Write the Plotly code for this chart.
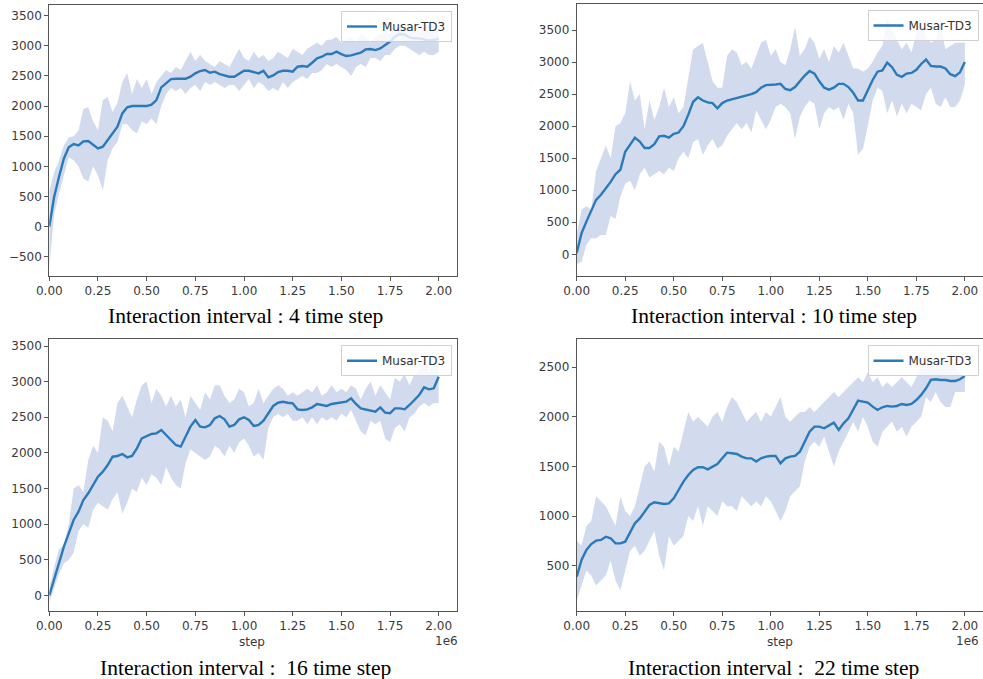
import plotly.graph_objects as go

# x positions (environment steps, in units of 1e6)
STEPS = [0.0, 0.025, 0.05, 0.075, 0.1, 0.125, 0.15, 0.175, 0.2, 0.225, 0.25, 0.275, 0.3, 0.325, 0.35, 0.375,
         0.4, 0.425, 0.45, 0.475, 0.5, 0.525, 0.55, 0.575, 0.6, 0.625, 0.65, 0.675, 0.7, 0.725, 0.75, 0.775,
         0.8, 0.825, 0.85, 0.875, 0.9, 0.925, 0.95, 0.975, 1.0, 1.025, 1.05, 1.075, 1.1, 1.125, 1.15, 1.175,
         1.2, 1.225, 1.25, 1.275, 1.3, 1.325, 1.35, 1.375, 1.4, 1.425, 1.45, 1.475, 1.5, 1.525, 1.55, 1.575,
         1.6, 1.625, 1.65, 1.675, 1.7, 1.725, 1.75, 1.775, 1.8, 1.825, 1.85, 1.875, 1.9, 1.925, 1.95, 1.975, 2.0]

# ---- Interval 4 ----
MEAN_4 = [0, 496, 828, 1132, 1315, 1370, 1348, 1414, 1420, 1354, 1298, 1326, 1437, 1558, 1658, 1879,
          1979, 2001, 2001, 1990, 2001, 2023, 2100, 2311, 2388, 2449, 2454, 2449, 2454, 2488, 2543, 2582,
          2598, 2554, 2571, 2532, 2515, 2488, 2488, 2543, 2587, 2587, 2571, 2543, 2587, 2477, 2510, 2565,
          2587, 2587, 2571, 2654, 2665, 2654, 2720, 2792, 2820, 2864, 2864, 2903, 2864, 2831, 2842, 2864,
          2886, 2941, 2947, 2930, 2958, 3013, 3069, 3151, 3196, 3190, 3140, 3124, 3124, 3107, 3085, 3096, 3124]
UPPER_4 = [600, 900, 1100, 1350, 1480, 1500, 1600, 1950, 1980, 1750, 1600, 2100, 2150, 1900, 2050, 2400,
           2550, 2200, 2450, 2300, 2450, 2200, 2400, 2500, 2600, 2550, 2650, 2600, 2750, 2900, 2750, 2850,
           2750, 2700, 2650, 2750, 2700, 2650, 2800, 2950, 2800, 2750, 2900, 2800, 2850, 2750, 2800, 2900,
           2850, 2800, 2950, 2900, 2850, 2950, 3000, 3050, 3000, 3100, 3100, 3150, 3050, 3100, 3150, 3050,
           3200, 3150, 3050, 3150, 3200, 3250, 3200, 3300, 3350, 3300, 3300, 3350, 3250, 3300, 3350, 3350, 3250]
LOWER_4 = [-700, 200, 550, 850, 1150, 1100, 1000, 800, 750, 1000, 850, 600, 1100, 1300, 1400, 1700,
           1700, 1600, 1550, 1750, 1700, 1800, 1700, 2000, 2200, 2300, 2250, 2300, 2200, 2300, 2350, 2250,
           2400, 2350, 2400, 2350, 2300, 2350, 2350, 2250, 2350, 2450, 2300, 2400, 2350, 2250, 2300, 2250,
           2400, 2300, 2400, 2450, 2500, 2450, 2550, 2550, 2600, 2700, 2650, 2700, 2650, 2600, 2500, 2650,
           2700, 2650, 2800, 2800, 2750, 2850, 2850, 2950, 3000, 3000, 2950, 2900, 2850, 2900, 2850, 2850, 2900]

# ---- Interval 10 ----
MEAN_10 = [20, 330, 510, 690, 850, 930, 1030, 1130, 1250, 1320, 1600, 1720, 1820, 1760, 1660, 1660,
           1720, 1840, 1850, 1820, 1880, 1900, 2000, 2180, 2380, 2450, 2400, 2370, 2360, 2280, 2360, 2400,
           2420, 2440, 2460, 2470, 2500, 2530, 2600, 2640, 2640, 2650, 2660, 2580, 2560, 2610, 2700, 2790,
           2860, 2820, 2700, 2600, 2570, 2600, 2660, 2660, 2610, 2520, 2400, 2400, 2560, 2720, 2850, 2870,
           2990, 2920, 2800, 2770, 2820, 2830, 2880, 2970, 3040, 2940, 2930, 2930, 2900, 2810, 2780, 2840, 3000]
UPPER_10 = [300, 700, 750, 700, 1300, 1500, 1700, 1500, 2000, 2050, 2200, 2700, 2400, 2500, 1950, 2400,
            2100, 2300, 2600, 2300, 2450, 2200, 2300, 2750, 3200, 3250, 3300, 3000, 2700, 2600, 2600, 3100,
            3200, 3150, 2950, 3000, 2900, 3100, 3300, 3350, 3100, 3200, 3000, 2950, 3200, 3550, 3100, 3200,
            3400, 3300, 3050, 3200, 3000, 3250, 3150, 3300, 3100, 2900, 2900, 2850, 2900, 3000, 3150, 3250,
            3700, 3500, 3350, 3200, 3300, 3150, 3450, 3600, 3400, 3300, 3350, 3600, 3200, 3250, 3300, 3300, 3300]
LOWER_10 = [-150, -120, 150, 250, 250, 300, 300, 600, 550, 900, 1100, 1150, 1000, 1250, 1350, 1200,
            1250, 1300, 1250, 1350, 1300, 1500, 1600, 1500, 1750, 1800, 1550, 1700, 1800, 1650, 1700, 1850,
            1950, 2050, 1950, 2050, 1900, 2250, 2100, 1950, 2100, 2300, 2350, 2300, 2200, 1800, 2150, 2300,
            2400, 2350, 1950, 2200, 2300, 2250, 2300, 2100, 2350, 2200, 1550, 1650, 2000, 2400, 2600, 2550,
            2200, 2400, 2150, 2350, 2200, 2350, 2300, 2250, 2500, 2600, 2350, 2300, 2450, 2300, 2300, 2400, 2650]

# ---- Interval 16 ----
MEAN_16 = [0, 239, 449, 683, 870, 1057, 1174, 1338, 1432, 1549, 1666, 1736, 1829, 1946, 1956, 1984,
           1937, 1956, 2063, 2204, 2237, 2265, 2274, 2321, 2251, 2180, 2110, 2087, 2227, 2368, 2461, 2368,
           2358, 2391, 2485, 2517, 2470, 2368, 2391, 2470, 2499, 2461, 2377, 2391, 2452, 2564, 2658, 2704,
           2718, 2704, 2695, 2611, 2601, 2611, 2639, 2686, 2672, 2658, 2686, 2695, 2704, 2718, 2765, 2686,
           2625, 2611, 2601, 2578, 2639, 2564, 2555, 2625, 2625, 2611, 2672, 2742, 2812, 2920, 2892, 2906, 3069]
UPPER_16 = [100, 400, 650, 700, 1000, 1500, 1550, 1450, 1900, 2100, 2000, 2500, 2450, 2300, 2700, 2800,
            2650, 2500, 2750, 2950, 3000, 2700, 2900, 2800, 2650, 2800, 2650, 2750, 2500, 2800, 2700, 2600,
            2850, 2750, 2950, 2950, 2800, 2700, 2750, 2900, 2850, 2650, 2700, 2900, 2700, 2800, 2900, 2950,
            2900, 2800, 2850, 2800, 2850, 2900, 2850, 2950, 2800, 2850, 2950, 2850, 2900, 2850, 2950, 2900,
            2750, 2900, 3000, 2800, 2950, 2850, 2750, 3050, 3000, 3100, 2950, 3100, 3150, 3300, 3150, 3250, 3350]
LOWER_16 = [-100, 100, 300, 450, 500, 600, 900, 1000, 950, 1200, 1300, 1250, 1200, 1350, 1450, 1150,
            1300, 1500, 1450, 1650, 1550, 1700, 1650, 1550, 1800, 1650, 1550, 1500, 1850, 2050, 2000, 1950,
            1900, 1950, 2100, 2050, 1950, 2100, 2000, 2150, 2200, 2100, 1950, 2000, 1900, 2350, 2500, 2550,
            2500, 2550, 2450, 2450, 2500, 2400, 2500, 2400, 2500, 2450, 2500, 2450, 2550, 2500, 2600, 2450,
            2300, 2250, 2450, 2400, 2450, 2200, 2150, 2350, 2400, 2300, 2500, 2550, 2650, 2700, 2650, 2700, 2700]

# ---- Interval 22 ----
MEAN_22 = [389, 557, 658, 718, 752, 759, 792, 776, 725, 725, 742, 843, 927, 977, 1044, 1112,
           1139, 1128, 1122, 1128, 1179, 1263, 1347, 1414, 1465, 1492, 1492, 1471, 1498, 1525, 1582, 1639,
           1633, 1626, 1599, 1582, 1582, 1549, 1582, 1599, 1606, 1606, 1532, 1582, 1599, 1606, 1649, 1750,
           1851, 1902, 1902, 1885, 1918, 1942, 1868, 1935, 1986, 2070, 2164, 2154, 2144, 2103, 2070, 2097,
           2110, 2103, 2110, 2130, 2120, 2130, 2170, 2221, 2288, 2372, 2379, 2372, 2372, 2362, 2362, 2379, 2412]
UPPER_22 = [750, 700, 900, 950, 1200, 1150, 1100, 1000, 900, 1200, 1050, 1000, 1100, 1300, 1500, 1550,
            1450, 1750, 1700, 1500, 1700, 1650, 1850, 2050, 1950, 2000, 1950, 1900, 2000, 2050, 1950, 2100,
            2200, 2150, 2050, 1950, 2000, 2050, 1950, 2050, 2000, 2100, 2200, 2000, 1950, 2000, 2050, 2050,
            2100, 2050, 2100, 2150, 2200, 2250, 2200, 2250, 2300, 2350, 2400, 2350, 2450, 2350, 2400, 2300,
            2350, 2300, 2350, 2400, 2350, 2300, 2400, 2500, 2550, 2600, 2500, 2550, 2600, 2550, 2500, 2450, 2400]
LOWER_22 = [150, 300, 450, 400, 300, 350, 400, 550, 350, 250, 450, 650, 700, 600, 650, 750,
            850, 600, 450, 800, 700, 750, 800, 1000, 950, 1100, 900, 1100, 1050, 1000, 1150, 1100,
            1100, 1050, 1200, 1150, 1100, 1150, 1100, 1200, 1150, 1050, 950, 1050, 1200, 1250, 1300, 1550,
            1700, 1750, 1700, 1800, 1650, 1500, 1650, 1750, 1850, 1950, 1850, 2000, 1900, 1750, 1700, 1850,
            1900, 1950, 1850, 1900, 1800, 1900, 1950, 2000, 2200, 2150, 2250, 2150, 2100, 2100, 2250, 2250, 2250]

CAPTIONS = ["Interaction interval : 4 time step",
            "Interaction interval : 10 time step",
            "Interaction interval :\u00a0 16 time step",
            "Interaction interval :\u00a0 22 time step"]
X_TICKS = [0, 0.25, 0.5, 0.75, 1.0, 1.25, 1.5, 1.75, 2.0]
Y_TICKS = [[-500, 0, 500, 1000, 1500, 2000, 2500, 3000, 3500],
           [0, 500, 1000, 1500, 2000, 2500, 3000, 3500],
           [0, 500, 1000, 1500, 2000, 2500, 3000, 3500],
           [500, 1000, 1500, 2000, 2500]]
SERIES_NAME = "Musar-TD3"

W, H = 983, 679
LINE_COLOR = "#2a7ab9"
FILL_COLOR = "rgb(209,219,237)"
AXIS_COLOR = "#555555"
TICK_FONT = dict(family="DejaVu Sans", size=12, color="#3a3a3a")

panels = [
    dict(mean=MEAN_4, up=UPPER_4, lo=LOWER_4, box=(49.3, 457, 5, 276), xr=[0, 2.094], yr=[-820, 3678]),
    dict(mean=MEAN_10, up=UPPER_10, lo=LOWER_10, box=(576.7, 982.5, 4, 276), xr=[0, 2.091], yr=[-338, 3906]),
    dict(mean=MEAN_16, up=UPPER_16, lo=LOWER_16, box=(49.3, 457, 339.3, 610.7), xr=[0, 2.094], yr=[-216, 3594]),
    dict(mean=MEAN_22, up=UPPER_22, lo=LOWER_22, box=(576.7, 982.5, 339.3, 610.7), xr=[0, 2.091], yr=[46, 2782]),
]

fig = go.Figure()
layout = dict(width=W, height=H, margin=dict(l=0, r=0, t=0, b=0, autoexpand=False),
              paper_bgcolor="white", plot_bgcolor="white", showlegend=True)
annotations = []

for i, p in enumerate(panels):
    k = "" if i == 0 else str(i + 1)
    xa, ya = "x" + k, "y" + k
    lg = "legend" + k
    x0, x1, y0, y1 = p["box"]
    xs = STEPS + STEPS[::-1]
    ys = p["up"] + p["lo"][::-1]
    fig.add_trace(go.Scatter(x=xs, y=ys, fill="toself", fillcolor=FILL_COLOR, line=dict(width=0),
                             mode="lines", showlegend=False, hoverinfo="skip", xaxis=xa, yaxis=ya))
    fig.add_trace(go.Scatter(x=STEPS, y=p["mean"], mode="lines", name=SERIES_NAME,
                             line=dict(color=LINE_COLOR, width=2.4), xaxis=xa, yaxis=ya, legend=lg))
    common = dict(showline=True, linecolor=AXIS_COLOR, linewidth=1, mirror=True, showgrid=False,
                  zeroline=False, ticks="outside", ticklen=4, tickwidth=1, tickcolor=AXIS_COLOR,
                  tickfont=TICK_FONT, automargin=False)
    layout["xaxis" + k] = dict(common, domain=[x0 / W, x1 / W], range=p["xr"], tickvals=X_TICKS,
                               tickformat=".2f", anchor=ya)
    layout["yaxis" + k] = dict(common, domain=[1 - y1 / H, 1 - y0 / H], range=p["yr"],
                               tickvals=Y_TICKS[i], tickformat="d", anchor=xa)
    lx = (x1 - 5) / W if i % 2 == 0 else 978.5 / W
    layout[lg] = dict(x=lx, y=1 - (y0 + 6) / H, xanchor="right", yanchor="top",
                      bgcolor="rgba(255,255,255,0.8)", bordercolor="#d0d0d0", borderwidth=1,
                      font=dict(family="DejaVu Sans", size=12, color="#333333"),
                      itemwidth=30, tracegroupgap=0)
    cx = ((x0 + x1) / 2 - 8) / W if i % 2 == 0 else ((x0 + x1) / 2 - 6) / W
    cap_y = 316 if i < 2 else 668
    annotations.append(dict(text=CAPTIONS[i], x=cx, y=1 - cap_y / H, xref="paper", yref="paper",
                            xanchor="center", yanchor="middle", showarrow=False,
                            font=dict(family="Liberation Serif", size=21.5, color="#000000")))
    if i >= 2:
        annotations.append(dict(text="step", x=(x0 + 203) / W, y=1 - 642 / H, xref="paper", yref="paper",
                                xanchor="center", yanchor="middle", showarrow=False, font=TICK_FONT))
        ex = (x0 + 397.5) / W if i == 2 else 981 / W
        annotations.append(dict(text="1e6", x=ex, y=1 - 641 / H, xref="paper", yref="paper",
                                xanchor="right" if i == 3 else "center", yanchor="middle",
                                showarrow=False, font=TICK_FONT))

layout["annotations"] = annotations
fig.update_layout(**layout)
fig.write_html("out.html", config={"displayModeBar": False},
               post_script="document.body.style.margin='0px';document.body.style.overflow='hidden';")
